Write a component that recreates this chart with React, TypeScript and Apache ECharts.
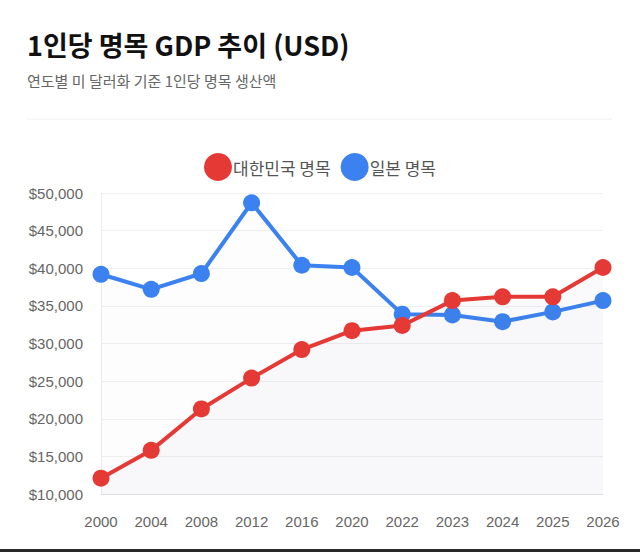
import React, { useEffect, useRef } from "react";
import * as echarts from "echarts";

const years = ["2000", "2004", "2008", "2012", "2016", "2020", "2022", "2023", "2024", "2025", "2026"];
const koreaGdp = [12100, 15800, 21300, 25400, 29200, 31700, 32400, 35700, 36200, 36200, 40100];
const japanGdp = [39200, 37200, 39300, 48700, 40400, 40100, 33900, 33800, 32900, 34200, 35700];

const RED = "#e53935";
const BLUE = "#3b82f0";
const FONT = "'Noto Sans CJK KR', 'Noto Sans', sans-serif";
const NUM_FONT = "'Liberation Sans', Arial, sans-serif";

const App = () => {
  const chartRef = useRef<HTMLDivElement>(null);

  useEffect(() => {
    document.body.style.margin = "0";
    const chart = echarts.init(chartRef.current, null, { renderer: "svg" });

    chart.setOption({
      animation: false,
      backgroundColor: "#ffffff",
      title: {
        text: "1인당 명목 GDP 추이 (USD)",
        subtext: "연도별 미 달러화 기준 1인당 명목 생산액",
        left: 22,
        top: 26,
        itemGap: 15,
        textStyle: { fontFamily: FONT, fontSize: 27, fontWeight: "bold", color: "#111111" },
        subtextStyle: { fontFamily: FONT, fontSize: 15, color: "#666666" },
      },
      graphic: [
        {
          type: "line",
          shape: { x1: 27, y1: 119, x2: 612, y2: 119 },
          style: { stroke: "#eeeeee", lineWidth: 1 },
        },
      ],
      legend: {
        top: 148,
        left: "center",
        icon: "circle",
        itemWidth: 28,
        itemHeight: 28,
        itemGap: 10,
        textStyle: { fontFamily: FONT, fontSize: 17, color: "#555555", padding: [0, 0, 0, -4] },
        data: ["대한민국 명목", "일본 명목"],
      },
      grid: { left: 101, right: 37, top: 193, bottom: 55 },
      xAxis: {
        type: "category",
        data: years,
        boundaryGap: false,
        axisLine: { lineStyle: { color: "#dddddd" } },
        axisTick: { show: false },
        axisLabel: { fontFamily: NUM_FONT, fontSize: 15, color: "#666666", margin: 20 },
      },
      yAxis: {
        type: "value",
        min: 10000,
        max: 50000,
        interval: 5000,
        axisLine: { show: true, lineStyle: { color: "#ececec" } },
        axisTick: { show: false },
        splitLine: { lineStyle: { color: "#f0f0f0" } },
        axisLabel: {
          fontFamily: NUM_FONT,
          fontSize: 15,
          color: "#666666",
          margin: 18,
          formatter: (v: number) => "$" + v.toLocaleString("en-US"),
        },
      },
      series: [
        {
          name: "대한민국 명목",
          type: "line",
          data: koreaGdp,
          symbol: "circle",
          symbolSize: 17,
          itemStyle: { color: RED },
          lineStyle: { color: RED, width: 4 },
          areaStyle: { color: "rgba(110,90,130,0.05)" },
          z: 3,
        },
        {
          name: "일본 명목",
          type: "line",
          data: japanGdp,
          symbol: "circle",
          symbolSize: 17,
          itemStyle: { color: BLUE },
          lineStyle: { color: BLUE, width: 4 },
          areaStyle: { color: "rgba(110,110,150,0.025)" },
          z: 2,
        },
      ],
    });

    return () => {
      chart.dispose();
    };
  }, []);

  return (
    <div style={{ position: "fixed", inset: 0, background: "#ffffff" }}>
      <div ref={chartRef} style={{ width: 640, height: 549 }} />
      <div style={{ position: "absolute", left: 0, right: 0, bottom: 0, height: 3, background: "#2a2a2a" }} />
    </div>
  );
};

export default App;
